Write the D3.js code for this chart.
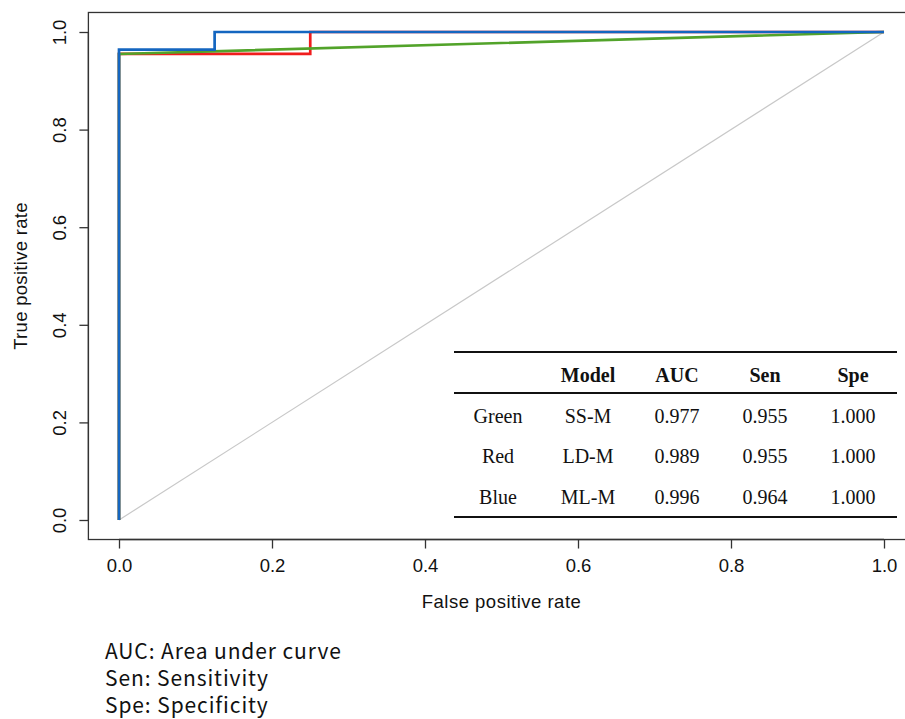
<!DOCTYPE html>
<html>
<head>
<meta charset="utf-8">
<script src="https://cdn.jsdelivr.net/npm/d3@7"></script>
<style>
body { margin: 0; background: #fff; }
svg { display: block; }
</style>
</head>
<body>
<div id="plot"></div>
<script>
// roc curve points (fpr, tpr)
var greenFpr = [0, 0, 1];
var greenTpr = [0, 0.955, 1];
var redFpr = [0, 0, 0.25, 0.25, 1];
var redTpr = [0, 0.955, 0.955, 1, 1];
var blueFpr = [0, 0, 0.125, 0.125, 1];
var blueTpr = [0, 0.964, 0.964, 1, 1];

var xTicks = [0, 0.2, 0.4, 0.6, 0.8, 1.0];
var yTicks = [0, 0.2, 0.4, 0.6, 0.8, 1.0];

// table contents
var tableHead = ["", "Model", "AUC", "Sen", "Spe"];
var tableRows = [
    ["Green", "SS-M", "0.977", "0.955", "1.000"],
    ["Red", "LD-M", "0.989", "0.955", "1.000"],
    ["Blue", "ML-M", "0.996", "0.964", "1.000"]
];
var notes = ["AUC: Area under curve", "Sen: Sensitivity", "Spe: Specificity"];

var width = 905, height = 719;

var svg = d3.select("#plot").append("svg")
    .attr("width", width)
    .attr("height", height);

// scales, R style with 4% padding
var xScale = d3.scaleLinear().domain([0, 1]).range([119, 884]);
var yScale = d3.scaleLinear().domain([0, 1]).range([520, 32]);
var x0 = xScale(-0.04), x1 = xScale(1.04);
var y0 = yScale(-0.04), y1 = yScale(1.04);

var axisFont = "'Liberation Sans', Arial, sans-serif";

// diagonal reference
svg.append("line")
    .attr("x1", xScale(0)).attr("y1", yScale(0))
    .attr("x2", xScale(1)).attr("y2", yScale(1))
    .attr("stroke", "#c8c8c8")
    .attr("stroke-width", 1.2);

// curves
var line = d3.line()
    .x(function(d) { return xScale(d[0]); })
    .y(function(d) { return yScale(d[1]); });

var curves = [
    {fpr: redFpr, tpr: redTpr, color: "#f01d1d"},
    {fpr: greenFpr, tpr: greenTpr, color: "#52a32a"},
    {fpr: blueFpr, tpr: blueTpr, color: "#1466c0"}
];
curves.forEach(function(c) {
    svg.append("path")
        .datum(d3.zip(c.fpr, c.tpr))
        .attr("d", line)
        .attr("fill", "none")
        .attr("stroke", c.color)
        .attr("stroke-width", 2.7);
});

// box
svg.append("rect")
    .attr("x", x0).attr("y", y1)
    .attr("width", x1 - x0).attr("height", y0 - y1)
    .attr("fill", "none")
    .attr("stroke", "#333")
    .attr("stroke-width", 1.3);

// x axis
var xAxis = svg.append("g")
    .attr("transform", "translate(0," + y0 + ")")
    .call(d3.axisBottom(xScale).tickValues(xTicks).tickFormat(d3.format(".1f")).tickSize(9).tickPadding(10));
xAxis.select(".domain").attr("d", "M" + xScale(0) + ",0H" + xScale(1)).attr("stroke", "#333").attr("stroke-width", 1.3);
xAxis.selectAll(".tick line").attr("stroke", "#333").attr("stroke-width", 1.3);
xAxis.selectAll("text").attr("font-family", axisFont).attr("font-size", 18.5).attr("fill", "#111");

// y axis
var yAxis = svg.append("g")
    .attr("transform", "translate(" + x0 + ",0)")
    .call(d3.axisLeft(yScale).tickValues(yTicks).tickFormat(d3.format(".1f")).tickSize(9).tickPadding(6));
yAxis.select(".domain").attr("d", "M0," + yScale(0) + "V" + yScale(1)).attr("stroke", "#333").attr("stroke-width", 1.3);
yAxis.selectAll(".tick line").attr("stroke", "#333").attr("stroke-width", 1.3);
yAxis.selectAll(".tick text")
    .attr("font-family", axisFont).attr("font-size", 18.5).attr("fill", "#111")
    .attr("x", null).attr("dy", null)
    .attr("text-anchor", "middle")
    .attr("transform", function() { return "translate(-22,0) rotate(-90)"; });

// axis titles
svg.append("text")
    .attr("x", (x0 + x1) / 2).attr("y", 608)
    .attr("text-anchor", "middle")
    .attr("font-family", axisFont).attr("font-size", 18.5).attr("fill", "#111")
    .attr("letter-spacing", 0.5)
    .text("False positive rate");

svg.append("text")
    .attr("transform", "translate(27," + ((y0 + y1) / 2) + ") rotate(-90)")
    .attr("text-anchor", "middle")
    .attr("font-family", axisFont).attr("font-size", 18.5).attr("fill", "#111")
    .attr("letter-spacing", 0.3)
    .text("True positive rate");

// table
var tableFont = "'Liberation Serif', 'Times New Roman', serif";
var colX = [498, 588, 677, 765, 853];
var rowY = [416, 456, 497];
var table = svg.append("g");

table.append("rect").attr("x", 454).attr("y", 343).attr("width", 444).attr("height", 185).attr("fill", "#fff");

[352, 393, 517].forEach(function(y) {
    table.append("line")
        .attr("x1", 454).attr("x2", 897)
        .attr("y1", y).attr("y2", y)
        .attr("stroke", "#111")
        .attr("stroke-width", 2.2);
});

tableHead.forEach(function(h, i) {
    table.append("text")
        .attr("x", colX[i]).attr("y", 375)
        .attr("dy", "0.35em")
        .attr("text-anchor", "middle")
        .attr("font-family", tableFont).attr("font-size", 20).attr("font-weight", "bold")
        .attr("fill", "#111")
        .text(h);
});

tableRows.forEach(function(r, j) {
    r.forEach(function(v, i) {
        table.append("text")
            .attr("x", colX[i]).attr("y", rowY[j])
            .attr("dy", "0.35em")
            .attr("text-anchor", "middle")
            .attr("font-family", tableFont).attr("font-size", 20)
            .attr("fill", "#111")
            .text(v);
    });
});

// footnotes
notes.forEach(function(n, i) {
    svg.append("text")
        .attr("x", 105).attr("y", 659 + i * 27)
        .attr("font-family", "'Noto Sans CJK KR', 'Noto Sans', sans-serif")
        .attr("font-size", 21)
        .attr("letter-spacing", 0.9)
        .attr("fill", "#111")
        .text(n);
});
</script>
</body>
</html>
